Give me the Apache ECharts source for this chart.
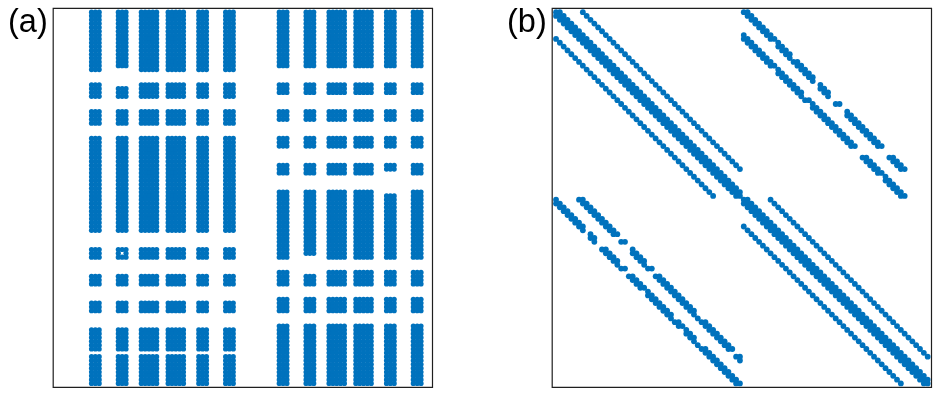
<!DOCTYPE html>
<html>
<head>
<meta charset="utf-8">
<style>html,body{margin:0;padding:0;background:#fff}#c{width:941px;height:397px}</style>
<script src="https://cdn.jsdelivr.net/npm/echarts@6/dist/echarts.min.js"></script>
</head>
<body>
<div id="c"></div>
<script>
// Panel (a): blocks of non-zero entries, as [first, last] index ranges
const colBlocksLeft = [[10,12],[17,19],[23,27],[30,34],[38,40],[45,47]];
const colBlocksRight = [[59,61],[66,68],[72,76],[79,83],[87,89],[94,96]];
const rowBlocksLeft = [[1,16],[20,23],[27,30],[34,58],[63,65],[70,72],[77,79],[84,89],[91,98]];
const rowBlocksRight = [[1,15],[20,22],[27,29],[34,36],[41,43],[48,65],[69,72],[76,79],[83,98]];
// entries missing from the blocks, [col, row]
const missingA = [[17,16],[18,16],[19,16],[17,20],[18,20],[19,20],[18,64],
  [66,65],[67,65],[68,65],[66,69],[67,69],[68,69],[87,43],[88,43],[89,43],[87,48],[88,48],[89,48]];

// Panel (b): diagonal runs [firstIndex, lastIndex, colOffset]
const diagonalRuns = [
  [1,49,0],[1,48,1],[2,49,-1],[1,42,7],[8,49,-7],
  [50,98,0],[50,97,1],[51,98,-1],[50,91,7],[57,98,-7]
];
// Panel (b): off-diagonal strips, each entry [row, col, col...]
const topRightUpper = [[1,50,51],[2,51,52],[3,52,53],[4,53,54],[5,54,55],[6,55,56],[7,56,57],[8,57,58],[9,59],[10,59,60],[11,60,61],[12,61,62],[13,62],[14,63,64],[15,64,65],[16,65,66],[17,66,67],[18,67,68],[19,68],[20,70],[21,70,71],[22,71,72],[23,72],[25,74,75],[27,77],[28,77,78],[29,78,79],[30,79,80],[31,80,81],[32,81,82],[33,82,83],[34,83,84],[35,84,85],[36,85,86],[39,88,89],[40,89,90],[41,90,91],[42,91,92]];
const topRightLower = [[7,50],[8,50,51],[9,51,52],[10,52,53],[11,53,54],[12,54,55],[13,55,56],[14,56,57],[15,57,58],[16,59],[17,59,60],[18,60,61],[19,61,62],[20,62,63],[21,63,64],[22,64,65],[23,65],[24,66,67],[25,68],[26,68,69],[27,69,70],[28,70,71],[29,71,72],[30,72,73],[31,73,74],[32,74,75],[33,75,76],[34,76,77],[35,77,78],[36,78,79],[39,81,82],[40,82,83],[41,83,84],[42,84,85],[43,85,86],[44,87],[45,87,88],[46,88,89],[47,89,90],[48,90,91],[49,91,92]];
const bottomLeftLower = [[50,1],[51,1,2],[52,2,3],[53,3,4],[54,4,5],[55,5,6],[56,6,7],[57,7,8],[58,8],[59,10],[60,10,11],[61,11],[63,13,14],[64,14,15],[65,15,16],[66,16,17],[67,17],[68,18,19],[70,20,21],[71,21,22],[72,22,23],[73,23,24],[74,25],[75,25,26],[76,26,27],[77,27,28],[78,28,29],[79,29,30],[80,30,31],[81,31],[82,32,33],[83,33,34],[84,35],[85,35,36],[86,36,37],[87,37],[88,38],[89,39,40],[90,40,41],[91,41,42],[92,42,43],[93,43,44],[94,44,45],[95,45,46],[96,46,47],[97,47,48],[98,48,49]];
const bottomLeftUpper = [[50,7,8],[51,8,9],[52,9,10],[53,10,11],[54,11,12],[55,12,13],[56,13,14],[57,14,15],[58,15,16],[59,16,17],[61,18,19],[63,21],[64,21,22],[65,22,23],[66,23,24],[67,24],[68,25,26],[70,27,28],[71,28,29],[72,29,30],[73,30,31],[74,31,32],[75,32,33],[76,33,34],[77,34,35],[78,35,36],[79,36,37],[80,37],[81,38],[82,39,40],[83,40,41],[84,41,42],[85,42,43],[86,43,44],[87,44,45],[88,45,46],[89,46,47],[91,48,49],[92,49]];

const panelLabels = ['(a)', '(b)'];
const markerColor = '#0072BD';

function blockPoints(cols, rows) {
  const out = [];
  cols.forEach(function (c) {
    rows.forEach(function (r) {
      for (let x = c[0]; x <= c[1]; x++) {
        for (let y = r[0]; y <= r[1]; y++) {
          if (!missingA.some(function (m) { return m[0] === x && m[1] === y; })) out.push([x, y]);
        }
      }
    });
  });
  return out;
}
const pointsA = blockPoints(colBlocksLeft, rowBlocksLeft).concat(blockPoints(colBlocksRight, rowBlocksRight));

const pointsB = [];
diagonalRuns.forEach(function (d) {
  for (let r = d[0]; r <= d[1]; r++) pointsB.push([r + d[2], r]);
});
[topRightUpper, topRightLower, bottomLeftLower, bottomLeftUpper].forEach(function (strip) {
  strip.forEach(function (e) {
    for (let k = 1; k < e.length; k++) pointsB.push([e[k], e[0]]);
  });
});

function axis(idx, inverse) {
  return { type: 'value', gridIndex: idx, min: 0, max: 99, inverse: inverse, show: false };
}
const gridBase = { show: true, top: 8.3, width: 379.3, height: 379, borderColor: '#1f1f1f', borderWidth: 1.2, backgroundColor: '#fff' };
const chart = echarts.init(document.getElementById('c'), null, { renderer: 'canvas' });
chart.setOption({
  animation: false,
  backgroundColor: '#fff',
  title: [
    { text: panelLabels[0], left: 3, top: 2, textStyle: { fontFamily: 'Liberation Sans', fontSize: 32.5, fontWeight: 'normal', color: '#000' } },
    { text: panelLabels[1], left: 502, top: 2, textStyle: { fontFamily: 'Liberation Sans', fontSize: 32.5, fontWeight: 'normal', color: '#000' } }
  ],
  grid: [Object.assign({ left: 53.2 }, gridBase), Object.assign({ left: 552.2 }, gridBase)],
  xAxis: [axis(0, false), axis(1, false)],
  yAxis: [axis(0, true), axis(1, true)],
  series: [
    { type: 'scatter', xAxisIndex: 0, yAxisIndex: 0, data: pointsA, symbolSize: 5.2, itemStyle: { color: markerColor, opacity: 1 }, silent: true },
    { type: 'scatter', xAxisIndex: 1, yAxisIndex: 1, data: pointsB, symbolSize: 5.8, itemStyle: { color: markerColor, opacity: 1 }, silent: true }
  ]
});
</script>
</body>
</html>
